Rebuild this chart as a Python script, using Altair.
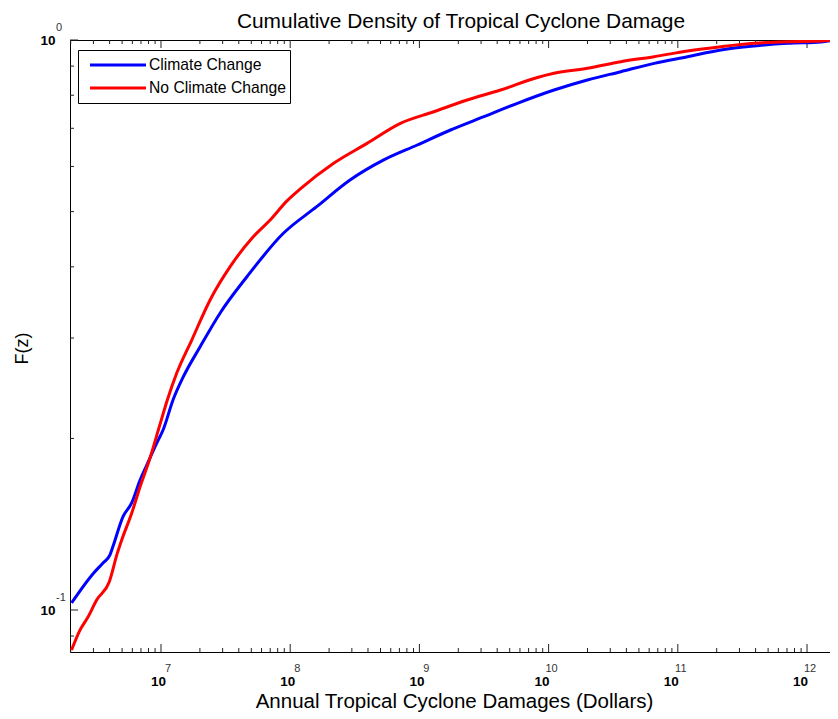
import altair as alt
import pandas as pd

FONT = "Liberation Sans"
TITLE = "Cumulative Density of Tropical Cyclone Damage"

# ---- data (log10 of damages in dollars, cumulative F) ----
series_names = ["Climate Change", "No Climate Change"]
series_colors = ["#0000ff", "#ff0000"]

cc_log10_damage = [6.308, 6.476, 6.551, 6.605, 6.628, 6.706, 6.773, 6.838, 6.890, 6.967,
                   7.016, 7.093, 7.173, 7.303, 7.458, 7.665, 7.947, 8.205, 8.463,
                   8.724, 8.983, 9.241, 9.499, 9.758, 10.042, 10.300, 10.559, 10.817, 11.076,
                   11.334, 11.592, 11.851, 12.109, 12.202]
cc_F = [0.1029, 0.1159, 0.1209, 0.1249, 0.1292, 0.1458, 0.1541, 0.1690, 0.1796, 0.1963,
        0.2069, 0.2336, 0.2566, 0.2896, 0.3320, 0.3843, 0.4580, 0.5100, 0.5679,
        0.6160, 0.6543, 0.6952, 0.7336, 0.7743, 0.8170, 0.8507, 0.8799, 0.9100, 0.9348,
        0.9605, 0.9761, 0.9867, 0.9920, 1.0]

ncc_log10_damage = [6.308, 6.373, 6.435, 6.502, 6.600, 6.662, 6.696, 6.773, 6.838, 6.910,
                    6.987, 7.049, 7.122, 7.238, 7.380, 7.535, 7.714, 7.845, 7.975, 8.078,
                    8.336, 8.595, 8.853, 9.111, 9.370, 9.628, 9.913, 10.042, 10.300, 10.559,
                    10.817, 11.076, 11.334, 11.592, 11.851, 12.109, 12.202]
ncc_F = [0.0851, 0.0922, 0.0972, 0.1041, 0.1121, 0.1258, 0.1327, 0.1478, 0.1645, 0.1833,
         0.2097, 0.2336, 0.2604, 0.2976, 0.3499, 0.4002, 0.4517, 0.4832, 0.5220, 0.5479,
         0.6077, 0.6587, 0.7142, 0.7484, 0.7848, 0.8170, 0.8595, 0.8741, 0.8920, 0.9161,
         0.9348, 0.9566, 0.9732, 0.9867, 0.9931, 0.9959, 1.0]

x_major = [1e7, 1e8, 1e9, 1e10, 1e11, 1e12]
x_exponents = ["7", "8", "9", "10", "11", "12"]
y_major = [0.1, 1.0]
y_exponents = ["-1", "0"]
y_minor = [0.09, 0.2, 0.3, 0.4, 0.5, 0.6, 0.7, 0.8, 0.9]

LX0, LX1 = 6.2957, 12.2398
Y_LO = 10 ** -1.0737
W, H = 768, 612

rows = []
for name, lx, F in [(series_names[0], cc_log10_damage, cc_F),
                    (series_names[1], ncc_log10_damage, ncc_F)]:
    for i, (a, b) in enumerate(zip(lx, F)):
        rows.append({"damage": 10 ** a, "F": b, "scenario": name, "i": i})
df = pd.DataFrame(rows)

x_minor = [k * 10 ** d for d in range(6, 13) for k in range(2, 10)
           if 10 ** LX0 <= k * 10 ** d <= 10 ** LX1]

xscale = alt.Scale(type="log", domain=[10 ** LX0, 10 ** LX1], nice=False)
yscale = alt.Scale(type="log", domain=[Y_LO, 1.0], nice=False)

xaxis = alt.Axis(values=x_major, labelExpr="'10'", ticks=False, tickSize=0, domain=False,
                 grid=False, labelFont=FONT, labelFontSize=13.5, labelFontWeight="bold",
                 labelColor="#000", labelPadding=22,
                 labelOffset=alt.condition("datum.value >= 1e10", alt.value(-7), alt.value(-3)),
                 labelFlush=False, labelOverlap=False,
                 title="Annual Tropical Cyclone Damages (Dollars)", titleFont=FONT,
                 titleFontSize=20.5, titleFontWeight="normal", titleColor="#000",
                 titleY=55, titleBaseline="alphabetic")
yaxis = alt.Axis(values=y_major, labelExpr="'10'", ticks=False, tickSize=0, domain=False,
                 grid=False, labelFont=FONT, labelFontSize=13.5, labelFontWeight="bold",
                 labelColor="#000", labelPadding=15,
                 labelOffset=alt.condition("datum.value < 0.5", alt.value(1), alt.value(0)),
                 labelBaseline="middle",
                 labelFlush=False, labelOverlap=False,
                 title="F(z)", titleFont=FONT, titleFontSize=18, titleFontWeight="normal",
                 titleColor="#000", titleX=-43, titleY=H / 2 + 2, titleAngle=270,
                 titleAlign="center", titleBaseline="alphabetic")

X = lambda f: alt.X(f, scale=xscale, axis=xaxis)
Y = lambda f: alt.Y(f, scale=yscale, axis=yaxis)

lines = alt.Chart(df).mark_line(strokeWidth=3, clip=True, interpolate="monotone").encode(
    x=X("damage:Q"),
    y=Y("F:Q"),
    order="i:Q",
    color=alt.Color("scenario:N",
                    scale=alt.Scale(domain=series_names, range=series_colors),
                    legend=alt.Legend(title=None, orient="none", legendX=8, legendY=10,
                                      symbolType="stroke", symbolSize=3136,
                                      symbolStrokeWidth=3, symbolOffset=7,
                                      labelOffset=1.5, clipHeight=23, rowPadding=0,
                                      padding=3.5, strokeColor="#000", fillColor="#fff",
                                      labelFont=FONT, labelFontSize=15.7,
                                      labelColor="#000", cornerRadius=0)),
)

xmaj_df = pd.DataFrame({"v": x_major, "e": x_exponents})
xmin_df = pd.DataFrame({"v": x_minor})
ymaj_df = pd.DataFrame({"v": y_major, "e": y_exponents})
ymin_df = pd.DataFrame({"v": y_minor})

TICK = "#222"
def xticks(d, n):
    b = alt.Chart(d).mark_rule(color=TICK, strokeWidth=1).encode(
        x=X("v:Q"), y=alt.value(H), y2=alt.value(H - n))
    t = alt.Chart(d).mark_rule(color=TICK, strokeWidth=1).encode(
        x=X("v:Q"), y=alt.value(0), y2=alt.value(n))
    return [b, t]

def yticks(d, n):
    l = alt.Chart(d).mark_rule(color=TICK, strokeWidth=1).encode(
        y=Y("v:Q"), x=alt.value(0), x2=alt.value(n))
    r = alt.Chart(d).mark_rule(color=TICK, strokeWidth=1).encode(
        y=Y("v:Q"), x=alt.value(W), x2=alt.value(W - n))
    return [l, r]

EXP_FS = 11
xexp1 = alt.Chart(xmaj_df).transform_filter("datum.v < 1e10").mark_text(
    font=FONT, fontSize=EXP_FS, color="#333", align="center", baseline="middle", dx=7).encode(
    x=X("v:Q"), y=alt.value(H + 17), text="e:N")
xexp2 = alt.Chart(xmaj_df).transform_filter("datum.v >= 1e10").mark_text(
    font=FONT, fontSize=EXP_FS, color="#333", align="center", baseline="middle", dx=3).encode(
    x=X("v:Q"), y=alt.value(H + 17), text="e:N")
yexp = alt.Chart(ymaj_df).mark_text(
    font=FONT, fontSize=EXP_FS, color="#333", align="left", baseline="middle", dy=-12).encode(
    y=Y("v:Q"), x=alt.value(-14), text="e:N")

title = alt.Chart(pd.DataFrame({"t": [TITLE]})).mark_text(
    font=FONT, fontSize=20.9, color="#000", align="center", baseline="alphabetic").encode(
    x=alt.value(W / 2 + 7), y=alt.value(-12), text="t:N")

layers = xticks(xmaj_df, 8) + xticks(xmin_df, 4) + yticks(ymaj_df, 8) + yticks(ymin_df, 4)
layers += [xexp1, xexp2, yexp, title, lines]

chart = alt.layer(*layers).properties(
    width=W, height=H,
    autosize=alt.AutoSizeParams(type="none"),
    padding={"left": 62, "top": 32, "right": -8, "bottom": 65},
    background="white",
).configure_view(stroke="#000", strokeWidth=1)

chart.save("out.html", embed_options={"renderer": "svg", "actions": False})
